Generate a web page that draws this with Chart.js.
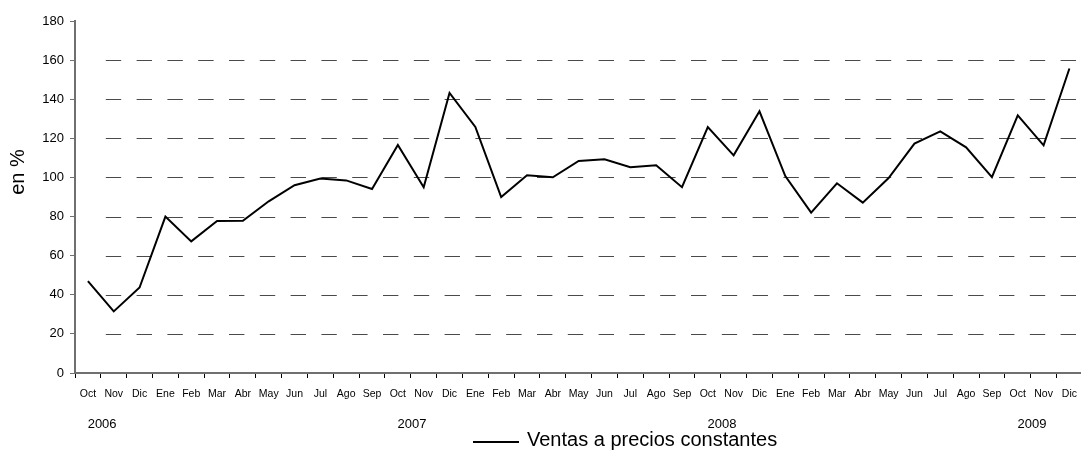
<!DOCTYPE html>
<html>
<head>
<meta charset="utf-8">
<script src="https://cdn.jsdelivr.net/npm/chart.js@4/dist/chart.umd.min.js"></script>
<style>
  html, body { margin: 0; padding: 0; background: #fff; overflow: hidden; }
  #wrap { width: 1087px; height: 450px; }
</style>
</head>
<body>
<div id="wrap"><canvas id="c" width="1087" height="450"></canvas></div>
<script>
// ---- Data ----
const months = ['Oct','Nov','Dic',
  'Ene','Feb','Mar','Abr','May','Jun','Jul','Ago','Sep','Oct','Nov','Dic',
  'Ene','Feb','Mar','Abr','May','Jun','Jul','Ago','Sep','Oct','Nov','Dic',
  'Ene','Feb','Mar','Abr','May','Jun','Jul','Ago','Sep','Oct','Nov','Dic'];
const ventas = [47, 31.5, 43.7,
  80, 67.3, 77.7, 77.8, 87.8, 96, 99.4, 98.5, 94.1, 116.6, 95, 143.2,
  125.8, 90, 101.1, 100.1, 108.4, 109.3, 105.2, 106.2, 95, 125.8, 111.3, 133.8,
  100.7, 82, 97, 87.1, 99.7, 117.3, 123.6, 115.4, 100.2, 131.8, 116.4, 155.7];
const years = ['2006', '2007', '2008', '2009'];
const yearMonthIndex = [0, 12, 24, 36];
const seriesLabel = 'Ventas a precios constantes';
const yAxisTitle = 'en %';
const yMin = 0, yMax = 180, yStep = 20;

const FONT = '"Liberation Sans", Arial, sans-serif';

const extras = {
  id: 'extras',
  beforeDatasetsDraw(chart) {
    const { ctx, chartArea, scales } = chart;
    const y = scales.y;
    ctx.save();
    ctx.strokeStyle = '#4a4a4a';
    ctx.lineWidth = 1;
    ctx.setLineDash([15.4, 15.4]);
    ctx.lineDashOffset = 15.4;
    y.ticks.forEach(t => {
      if (t.value <= yMin || t.value >= yMax) return;
      const py = Math.round(y.getPixelForValue(t.value)) + 0.5;
      ctx.beginPath();
      ctx.moveTo(chartArea.left + 15.4, py);
      ctx.lineTo(chartArea.right, py);
      ctx.stroke();
    });
    ctx.restore();
  },
  afterDraw(chart) {
    const { ctx, scales } = chart;
    const x = scales.x;
    const w = x.getPixelForValue(1) - x.getPixelForValue(0);
    ctx.save();
    ctx.fillStyle = '#000';
    // year labels
    ctx.font = '13px ' + FONT;
    ctx.textAlign = 'center';
    ctx.textBaseline = 'middle';
    years.forEach((yr, i) => {
      const px = x.getPixelForValue(yearMonthIndex[i]) + w * 0.55;
      ctx.fillText(yr, px, 424);
    });
    // y axis title
    ctx.save();
    ctx.translate(18, 172);
    ctx.rotate(-Math.PI / 2);
    ctx.font = '20px ' + FONT;
    ctx.textAlign = 'center';
    ctx.textBaseline = 'middle';
    ctx.fillText(yAxisTitle, 0, 0);
    ctx.restore();
    // legend
    ctx.strokeStyle = '#000';
    ctx.lineWidth = 2;
    ctx.beginPath();
    ctx.moveTo(473, 442);
    ctx.lineTo(519, 442);
    ctx.stroke();
    ctx.font = '20px ' + FONT;
    ctx.textAlign = 'left';
    ctx.textBaseline = 'middle';
    ctx.fillText(seriesLabel, 527, 440);
    ctx.restore();
  }
};

new Chart(document.getElementById('c'), {
  type: 'line',
  data: {
    labels: months,
    datasets: [{
      label: seriesLabel,
      data: ventas,
      borderColor: '#000',
      borderWidth: 2,
      pointRadius: 0,
      tension: 0,
      fill: false
    }]
  },
  options: {
    responsive: false,
    animation: false,
    devicePixelRatio: 1,
    layout: { padding: { top: 21, right: 0, bottom: 0, left: 0 } },
    plugins: { legend: { display: false }, tooltip: { enabled: false } },
    scales: {
      x: {
        offset: true,
        grid: { display: true, offset: true, drawOnChartArea: false, drawTicks: true, tickLength: 5, color: '#000', lineWidth: 1 },
        border: { display: true, color: '#707070', width: 2 },
        ticks: { color: '#000', font: { family: FONT, size: 10.5 }, maxRotation: 0, autoSkip: false, padding: 10 },
        afterFit(s) { s.height = 77; }
      },
      y: {
        min: yMin, max: yMax,
        grid: { display: true, drawOnChartArea: false, drawTicks: true, tickLength: 5, color: '#707070' },
        border: { display: true, color: '#707070', width: 2 },
        ticks: { stepSize: yStep, color: '#000', font: { family: FONT, size: 13 }, padding: 6 },
        afterFit(s) { s.width = 75; }
      }
    }
  },
  plugins: [extras]
});
</script>
</body>
</html>
